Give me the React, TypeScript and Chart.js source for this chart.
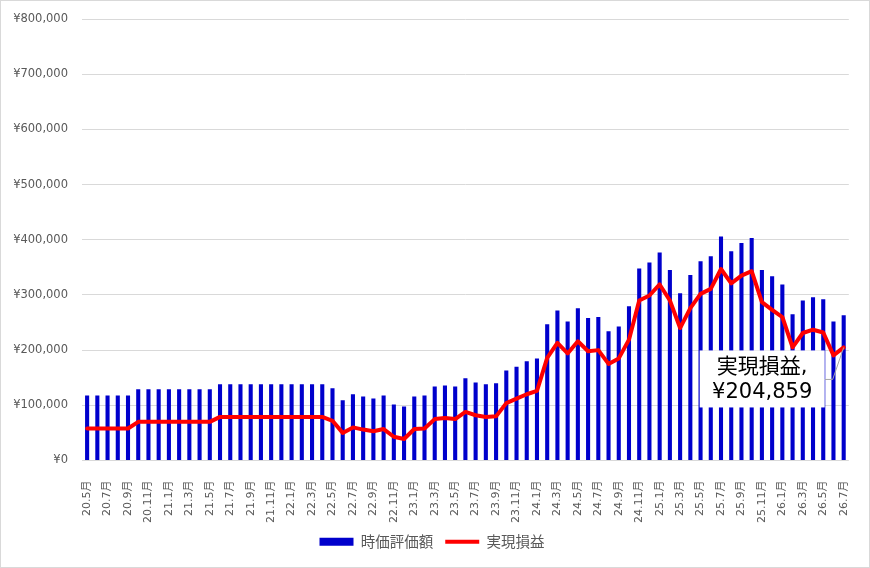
import { useEffect, useRef } from "react";
import { Chart, registerables, Plugin } from "chart.js";

Chart.register(...registerables);

const months = [
  "20.5月", "20.6月", "20.7月", "20.8月", "20.9月", "20.10月", "20.11月", "20.12月",
  "21.1月", "21.2月", "21.3月", "21.4月", "21.5月", "21.6月", "21.7月", "21.8月",
  "21.9月", "21.10月", "21.11月", "21.12月",
  "22.1月", "22.2月", "22.3月", "22.4月", "22.5月", "22.6月", "22.7月", "22.8月",
  "22.9月", "22.10月", "22.11月", "22.12月",
  "23.1月", "23.2月", "23.3月", "23.4月", "23.5月", "23.6月", "23.7月", "23.8月",
  "23.9月", "23.10月", "23.11月", "23.12月",
  "24.1月", "24.2月", "24.3月", "24.4月", "24.5月", "24.6月", "24.7月", "24.8月",
  "24.9月", "24.10月", "24.11月", "24.12月",
  "25.1月", "25.2月", "25.3月", "25.4月", "25.5月", "25.6月", "25.7月", "25.8月",
  "25.9月", "25.10月", "25.11月", "25.12月",
  "26.1月", "26.2月", "26.3月", "26.4月", "26.5月", "26.6月", "26.7月",
];

// 時価評価額
const marketValue = [
  118000, 118000, 118000, 118000, 118000, 129000, 129000, 129000,
  129000, 129000, 129000, 129000, 129000, 138000, 138000, 138000,
  138000, 138000, 138000, 138000,
  138000, 138000, 138000, 138000, 131000, 109000, 120000, 116000,
  112500, 118000, 101600, 98000,
  116000, 118000, 134000, 136000, 134000, 149000, 141500, 138000,
  140000, 163000, 170000, 180000,
  185000, 247000, 272000, 252000, 276000, 258000, 260000, 234000,
  243000, 279500, 348000, 359000,
  377000, 345000, 303000, 336000, 361000, 370000, 406000, 379000,
  394000, 403000, 345000, 334000,
  319000, 265000, 290000, 296000, 292000, 252000, 263000,
];

// 実現損益
const realizedPnl = [
  58000, 58000, 58000, 58000, 58000, 70000, 70000, 70000,
  70000, 70000, 70000, 70000, 70000, 79000, 79000, 79000,
  79000, 79000, 79000, 79000,
  79000, 79000, 79000, 79000, 72000, 50000, 60000, 56000,
  53000, 57000, 43000, 39000,
  57000, 58000, 75000, 77000, 75000, 88000, 82000, 79000,
  80000, 104000, 112000, 120000,
  126000, 186000, 213000, 194000, 216000, 198000, 200000, 175000,
  185000, 219000, 290000, 299000,
  319000, 290000, 240000, 276000, 302000, 311000, 347000, 321000,
  335000, 343000, 287000, 273000,
  260000, 205000, 231000, 237000, 232000, 190500, 204859,
];

const latin = "'DejaVu Sans', 'Noto Sans CJK JP', sans-serif";
const axisGray = "#595959";
const gridGray = "#d9d9d9";

const yen = (v: number) => "¥" + Math.round(v).toLocaleString("ja-JP");

// 最終月の実現損益ラベル（吹き出し）
const lastLabelPlugin: Plugin<"bar"> = {
  id: "lastLabel",
  afterDatasetsDraw(chart) {
    const dsIndex = 1;
    const meta = chart.getDatasetMeta(dsIndex);
    const pts = meta.data;
    if (!pts.length) return;
    const last = pts[pts.length - 1];
    const px = last.x;
    const py = last.y;
    const value = realizedPnl[realizedPnl.length - 1];
    const name = chart.data.datasets[dsIndex].label;

    const boxR = px - 19;
    const boxW = 125;
    const boxL = boxR - boxW;
    const boxT = py + 3;
    const boxH = 57;
    const ctx = chart.ctx;
    ctx.save();

    ctx.strokeStyle = "#a6a6a6";
    ctx.lineWidth = 1;
    ctx.beginPath();
    ctx.moveTo(boxR, boxT + 29);
    ctx.lineTo(boxR + 8, boxT + 29);
    ctx.lineTo(px, py);
    ctx.stroke();

    ctx.fillStyle = "#ffffff";
    ctx.fillRect(boxL, boxT, boxW, boxH);

    ctx.fillStyle = "#000000";
    ctx.font = `21px ${latin}`;
    ctx.textAlign = "center";
    ctx.textBaseline = "middle";
    const cx = boxL + boxW / 2;
    ctx.fillText(`${name},`, cx, boxT + 17);
    ctx.fillText(yen(value), cx, boxT + 42);
    ctx.restore();
  },
};

export default function App() {
  const canvasRef = useRef<HTMLCanvasElement | null>(null);

  useEffect(() => {
    if (!canvasRef.current) return;

    const chart = new Chart(canvasRef.current, {
      type: "bar",
      data: {
        labels: months,
        datasets: [
          {
            type: "bar",
            label: "時価評価額",
            data: marketValue,
            backgroundColor: "#0000CC",
            borderWidth: 0,
            barPercentage: 0.4,
            categoryPercentage: 1,
            pointStyle: "rect",
            order: 1,
          },
          {
            type: "line",
            label: "実現損益",
            data: realizedPnl,
            borderColor: "#FF0000",
            backgroundColor: "#FF0000",
            borderWidth: 4,
            borderJoinStyle: "round",
            borderCapStyle: "round",
            pointRadius: 0,
            pointHoverRadius: 0,
            pointStyle: "line",
            tension: 0,
            order: 0,
          } as any,
        ],
      },
      options: {
        animation: false,
        responsive: true,
        maintainAspectRatio: false,
        layout: { padding: { left: 10, right: 16, top: 18, bottom: 8 } },
        plugins: {
          tooltip: { enabled: false },
          legend: {
            position: "bottom",
            labels: {
              usePointStyle: true,
              pointStyleWidth: 34,
              boxHeight: 8,
              color: axisGray,
              padding: 12,
              font: { size: 14.5, family: "'Noto Sans CJK JP', sans-serif" },
              sort: (a, b) => (a.datasetIndex ?? 0) - (b.datasetIndex ?? 0),
            },
          },
        },
        scales: {
          x: {
            offset: true,
            grid: { display: false },
            border: { display: false },
            ticks: {
              autoSkip: false,
              minRotation: 90,
              maxRotation: 90,
              padding: 12,
              color: axisGray,
              font: { size: 11, family: latin },
              callback: (_v, i) => (i % 2 === 0 ? months[i] : ""),
            },
            afterFit: (scale) => {
              scale.height = 62;
            },
          },
          y: {
            min: 0,
            max: 800000,
            grid: {
              color: gridGray,
              drawTicks: true,
              tickLength: 14,
              tickColor: "rgba(0,0,0,0)",
            },
            border: { display: false },
            ticks: {
              stepSize: 100000,
              padding: 0,
              color: axisGray,
              font: { size: 11.5, family: latin },
              callback: (v) => yen(Number(v)),
            },
            afterFit: (scale) => {
              scale.width = 71;
            },
          },
        },
      },
      plugins: [lastLabelPlugin],
    });

    return () => {
      chart.destroy();
    };
  }, []);

  return (
    <div
      style={{
        position: "absolute",
        left: 0,
        top: 0,
        width: 870,
        height: 568,
        boxSizing: "border-box",
        border: `1px solid ${gridGray}`,
        background: "#ffffff",
      }}
    >
      <div style={{ position: "relative", width: 868, height: 566 }}>
        <canvas ref={canvasRef}></canvas>
      </div>
    </div>
  );
}
